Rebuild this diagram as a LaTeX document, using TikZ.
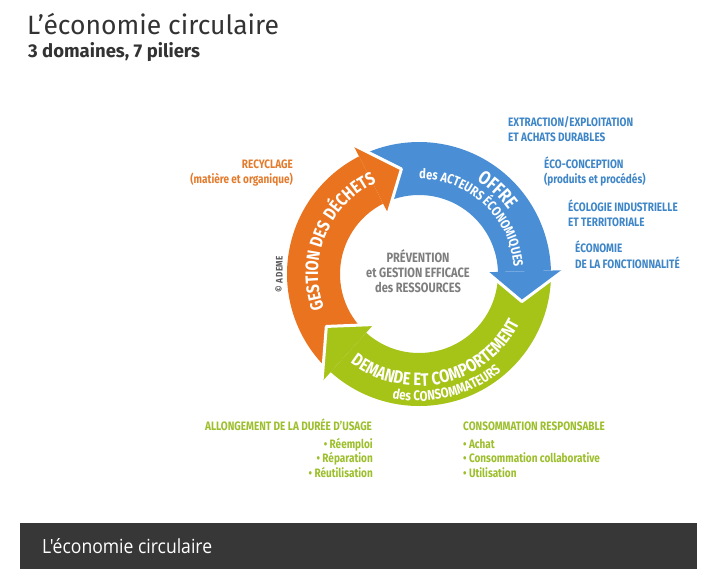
\documentclass[tikz,border=0pt]{standalone}
\usepackage{fontspec}
\setmainfont{Fira Sans}
\newfontfamily\cnd{Fira Sans}[FakeStretch=0.82]
\newfontfamily\cndl{Fira Sans}[FakeStretch=0.86, LetterSpace=6]
\newfontfamily\opsans{Open Sans}[FakeStretch=0.90]
\usetikzlibrary{decorations.text}
\definecolor{orng}{HTML}{E9731E}
\definecolor{blu}{HTML}{4A8FD5}
\definecolor{grn}{HTML}{A6C318}
\definecolor{torng}{HTML}{E47B2C}
\definecolor{tblu}{HTML}{3E86C8}
\definecolor{tgrn}{HTML}{9CBF2B}
\definecolor{tgray}{HTML}{7E7E7E}
\definecolor{titlec}{HTML}{333333}
\definecolor{barc}{HTML}{373737}
\tikzset{
  lbl/.style={inner sep=0pt, font=\cnd\bfseries\fontsize{12.2}{12.2}\selectfont},
  lblw/.style={lbl, anchor=base west},
  lble/.style={lbl, anchor=base east},
  ctr/.style={inner sep=0pt, anchor=base, text=tgray, font=\cnd\bfseries\fontsize{13.5}{13.5}\selectfont},
  headedge/.style={draw=white, line width=3pt, line join=round, line cap=round},
  arctext/.style={decorate, decoration={text along path, text align=center, text color=white}},
}
\begin{document}
\begin{tikzpicture}[x=1pt,y=-1pt]
\useasboundingbox (0,0) rectangle (710,582);
\fill[white] (0,0) rectangle (710,582);
% titles
\node[inner sep=0pt, anchor=base west, text=titlec, font=\fontsize{26.5}{26.5}\selectfont] (title) at (27,34) {L’économie circulaire};
\node[inner sep=0pt, anchor=base west, text=titlec, font=\bfseries\fontsize{18.5}{18.5}\selectfont] (subtitle) at (28,57) {3 domaines, 7 piliers};
% ring
\begin{scope}[shift={(419,274)}]
  % bodies
  \fill[orng] (225:132pt) arc[start angle=225, end angle=117, radius=132pt] -- (117:79pt) arc[start angle=117, end angle=225, radius=79pt] -- cycle;
  \fill[blu] (114.5:132pt) arc[start angle=114.5, end angle=1.5, radius=132pt] -- (1.5:79pt) arc[start angle=1.5, end angle=114.5, radius=79pt] -- cycle;
  \fill[grn] (-1:132pt) arc[start angle=-1, end angle=-132, radius=132pt] -- (-132:79pt) arc[start angle=-132, end angle=-1, radius=79pt] -- cycle;
  % heads
  \filldraw[fill=orng, headedge] (117:145pt) -- (99.5:106.5pt) -- (117:68pt);
  \filldraw[fill=blu, headedge] (1.5:145pt) -- (-15:106.5pt) -- (1.5:68pt);
  \filldraw[fill=grn, headedge] (-132:145pt) -- (-150.5:106.5pt) -- (-132:68pt);
  % arc texts
  \path[arctext, decoration={text={|\cnd\bfseries\fontsize{18}{18}\selectfont|GESTION DES DÉCHETS}}]
    (215:101pt) arc[start angle=215, end angle=100, radius=101pt];
  \path[arctext, decoration={text={|\cnd\bfseries\fontsize{19}{19}\selectfont|OFFRE}}]
    (80:110pt) arc[start angle=80, end angle=14, radius=110pt];
  \path[arctext, decoration={text={|\cnd\bfseries\fontsize{13.5}{13.5}\selectfont|des ACTEURS ÉCONOMIQUES}}]
    (100:95pt) arc[start angle=100, end angle=-6, radius=95pt];
  \path[arctext, decoration={text={|\cnd\bfseries\fontsize{18}{18}\selectfont|DEMANDE ET COMPORTEMENT}}]
    (212:112pt) arc[start angle=212, end angle=354, radius=112pt];
  \path[arctext, decoration={text={|\cnd\bfseries\fontsize{14}{14}\selectfont|des CONSOMMATEURS}}]
    (240:127pt) arc[start angle=240, end angle=328, radius=127pt];
\end{scope}
% centre text
\node[ctr] (c1) at (418,262) {PRÉVENTION};
\node[ctr] (c2) at (418,277) {et GESTION EFFICACE};
\node[ctr] (c3) at (418,292) {des RESSOURCES};
% copyright
\node[inner sep=0pt, rotate=90, text=black!65, font=\cndl\bfseries\fontsize{9.5}{9.5}\selectfont] (ademe) at (279,274) {© ADEME};
% blue labels
\node[lblw, text=tblu] (b1a) at (508,126) {EXTRACTION/EXPLOITATION};
\node[lblw, text=tblu] (b1b) at (508,141) {ET ACHATS DURABLES};
\node[lblw, text=tblu] (b2a) at (544,168) {ÉCO-CONCEPTION};
\node[lblw, text=tblu] (b2b) at (544,183) {(produits et procédés)};
\node[lblw, text=tblu] (b3a) at (568,211) {ÉCOLOGIE INDUSTRIELLE};
\node[lblw, text=tblu] (b3b) at (568,226) {ET TERRITORIALE};
\node[lblw, text=tblu] (b4a) at (575,252) {ÉCONOMIE};
\node[lblw, text=tblu] (b4b) at (575,268) {DE LA FONCTIONNALITÉ};
% orange labels
\node[lble, text=torng] (o1) at (293,168) {RECYCLAGE};
\node[lble, text=torng] (o2) at (293,183) {(matière et organique)};
% green labels
\node[lblw, text=tgrn] (g1) at (205,430) {ALLONGEMENT DE LA DURÉE D’USAGE};
\node[lble, text=tgrn] (g2) at (373,448) {• Réemploi};
\node[lble, text=tgrn] (g3) at (373,462) {• Réparation};
\node[lble, text=tgrn] (g4) at (373,477) {• Réutilisation};
\node[lblw, text=tgrn] (g5) at (463,430) {CONSOMMATION RESPONSABLE};
\node[lblw, text=tgrn] (g6) at (463,448) {• Achat};
\node[lblw, text=tgrn] (g7) at (463,462) {• Consommation collaborative};
\node[lblw, text=tgrn] (g8) at (463,477) {• Utilisation};
% caption bar
\fill[barc] (20,523) rectangle (697,569);
\node[inner sep=0pt, anchor=base west, text=white, font=\opsans\fontsize{19.5}{19.5}\selectfont] (caption) at (42,553) {L'économie circulaire};
\end{tikzpicture}
\end{document}
